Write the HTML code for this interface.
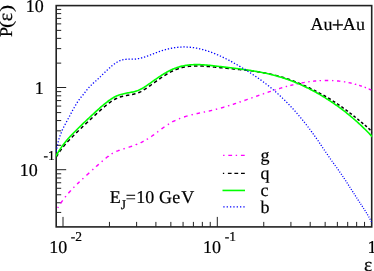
<!DOCTYPE html>
<html><head><meta charset="utf-8"><title>P(eps)</title>
<style>html,body{margin:0;padding:0;background:#fff;overflow:hidden}svg{display:block;will-change:transform}text{font-family:"Liberation Serif",serif;fill:#000;text-rendering:geometricPrecision;font-kerning:none;stroke:#000;stroke-width:0.2px}</style></head><body>
<svg width="374" height="271" viewBox="0 0 374 271">
<rect x="0" y="0" width="374" height="271" fill="#fff"/>
<defs><clipPath id="cp"><rect x="55.90" y="5.60" width="316.20" height="221.60"/></clipPath></defs>
<path d="M56.20 212.43 h5.0 M56.20 202.76 h5.0 M56.20 194.79 h5.0 M56.20 188.29 h5.0 M56.20 182.78 h5.0 M56.20 178.02 h5.0 M56.20 173.81 h5.0 M56.20 169.70 h10.0 M56.20 145.31 h5.0 M56.20 130.83 h5.0 M56.20 120.56 h5.0 M56.20 112.59 h5.0 M56.20 106.09 h5.0 M56.20 100.58 h5.0 M56.20 95.82 h5.0 M56.20 91.61 h5.0 M56.20 87.50 h10.0 M56.20 63.11 h5.0 M56.20 48.63 h5.0 M56.20 38.36 h5.0 M56.20 30.39 h5.0 M56.20 23.89 h5.0 M56.20 18.38 h5.0 M56.20 13.62 h5.0 M56.20 9.41 h5.0 M63.00 226.90 v-10.0 M109.45 226.90 v-5.0 M136.62 226.90 v-5.0 M155.90 226.90 v-5.0 M170.85 226.90 v-5.0 M183.07 226.90 v-5.0 M193.40 226.90 v-5.0 M202.35 226.90 v-5.0 M210.24 226.90 v-5.0 M217.30 226.90 v-10.0 M263.75 226.90 v-5.0 M290.92 226.90 v-5.0 M310.20 226.90 v-5.0 M325.15 226.90 v-5.0 M337.37 226.90 v-5.0 M347.70 226.90 v-5.0 M356.65 226.90 v-5.0 M364.54 226.90 v-5.0" stroke="#222" stroke-width="1" fill="none"/>
<rect x="56.20" y="5.60" width="315.50" height="221.30" fill="none" stroke="#222" stroke-width="1.6"/>
<g clip-path="url(#cp)" fill="none">
<path d="M57.63 207.97 L57.65 207.94 L57.91 207.51 L58.18 207.09 L58.37 206.78 M60.56 203.43 L60.58 203.40 L60.86 202.99 L61.14 202.58 L61.43 202.17 L61.72 201.76 L62.00 201.35 L62.30 200.94 L62.59 200.54 L62.66 200.44 M65.07 197.25 L65.08 197.23 L65.39 196.83 L65.70 196.44 L65.94 196.15 M68.40 193.19 L68.42 193.17 L68.75 192.80 L69.08 192.42 L69.41 192.04 L69.74 191.67 L70.07 191.30 L70.41 190.93 L70.75 190.56 L70.76 190.54 M73.41 187.75 L73.43 187.73 L73.78 187.37 L74.13 187.02 L74.39 186.75 M77.09 184.10 L77.12 184.07 L77.48 183.72 L77.84 183.38 L78.20 183.03 L78.57 182.69 L78.93 182.35 L79.29 182.00 L79.62 181.70 M82.39 179.13 L82.41 179.11 L82.78 178.77 L83.14 178.43 L83.41 178.18 M86.45 175.39 L86.45 175.39 L86.82 175.05 L87.19 174.71 L87.56 174.37 L87.93 174.03 L88.30 173.70 L88.67 173.36 L89.04 173.02 L89.23 172.85 M92.28 170.07 L92.29 170.06 L92.66 169.73 L93.03 169.39 L93.32 169.13 M96.17 166.58 L96.19 166.55 L96.57 166.22 L96.94 165.89 L97.31 165.55 L97.69 165.22 L98.06 164.89 L98.44 164.56 L98.80 164.24 M101.67 161.72 L101.70 161.69 L102.08 161.36 L102.46 161.03 L102.73 160.80 M105.67 158.30 L105.70 158.28 L106.08 157.96 L106.47 157.65 L106.86 157.33 L107.25 157.02 L107.65 156.71 L108.04 156.41 L108.44 156.11 L108.44 156.10 M111.60 153.91 L111.64 153.88 L112.07 153.62 L112.49 153.36 L112.80 153.19 M116.33 151.43 L116.33 151.43 L116.79 151.23 L117.25 151.04 L117.72 150.86 L118.18 150.67 L118.65 150.50 L119.12 150.33 L119.59 150.16 L119.69 150.12 M123.43 148.90 L123.44 148.90 L123.92 148.75 L124.39 148.61 L124.77 148.49 M128.64 147.27 L128.64 147.27 L129.11 147.12 L129.59 146.96 L130.06 146.80 L130.54 146.65 L131.01 146.49 L131.49 146.33 L131.96 146.16 L132.14 146.10 M135.95 144.71 L135.95 144.70 L136.42 144.52 L136.88 144.34 L137.25 144.19 M140.59 142.74 L140.60 142.73 L141.05 142.52 L141.50 142.31 L141.95 142.09 L142.40 141.87 L142.85 141.64 L143.30 141.41 L143.62 141.24 M146.80 139.46 L146.83 139.44 L147.26 139.18 L147.69 138.92 L147.99 138.73 M151.19 136.61 L151.23 136.58 L151.64 136.29 L152.05 136.00 L152.46 135.71 L152.87 135.42 L153.27 135.13 L153.68 134.84 L154.06 134.55 M157.14 132.26 L157.17 132.24 L157.57 131.94 L157.96 131.64 L158.26 131.42 M161.49 129.00 L161.53 128.97 L161.93 128.67 L162.33 128.38 L162.73 128.08 L163.14 127.79 L163.54 127.50 L163.95 127.20 L164.36 126.91 L164.47 126.84 M167.81 124.58 L167.84 124.56 L168.26 124.29 L168.68 124.03 L169.00 123.84 M172.31 121.94 L172.32 121.93 L172.76 121.70 L173.20 121.47 L173.65 121.24 L174.10 121.01 L174.54 120.79 L174.99 120.57 L175.45 120.36 L175.45 120.36 M178.95 118.82 L178.97 118.82 L179.44 118.63 L179.90 118.45 L180.25 118.31 M184.07 116.95 L184.09 116.95 L184.56 116.79 L185.04 116.64 L185.52 116.49 L186.00 116.34 L186.47 116.20 L186.95 116.06 L187.43 115.92 L187.60 115.87 M191.52 114.83 L191.54 114.82 L192.02 114.70 L192.51 114.58 L192.88 114.49 M196.58 113.65 L196.60 113.65 L197.09 113.54 L197.58 113.44 L198.07 113.33 L198.56 113.23 L199.05 113.12 L199.54 113.02 L200.00 112.93 M203.71 112.16 L203.75 112.15 L204.24 112.05 L204.73 111.95 L205.09 111.88 M208.77 111.09 L208.79 111.09 L209.28 110.98 L209.76 110.87 L210.25 110.76 L210.74 110.65 L211.23 110.54 L211.71 110.42 L212.16 110.32 M215.82 109.41 L215.84 109.40 L216.32 109.28 L216.81 109.15 L217.18 109.05 M220.91 108.03 L220.96 108.02 L221.44 107.88 L221.92 107.75 L222.40 107.61 L222.88 107.47 L223.36 107.33 L223.84 107.19 L224.32 107.04 L224.33 107.04 M228.03 105.92 L228.05 105.91 L228.53 105.76 L229.00 105.61 L229.37 105.50 M232.85 104.38 L232.86 104.38 L233.34 104.22 L233.81 104.07 L234.29 103.91 L234.76 103.75 L235.24 103.60 L235.71 103.44 L236.07 103.32 M239.54 102.15 L239.55 102.14 L240.02 101.98 L240.49 101.82 L240.86 101.69 M244.45 100.45 L244.46 100.45 L244.94 100.28 L245.41 100.12 L245.88 99.95 L246.35 99.79 L246.82 99.62 L247.29 99.46 L247.76 99.29 M251.34 98.03 L251.35 98.03 L251.82 97.86 L252.29 97.69 L252.66 97.56 M256.14 96.33 L256.16 96.33 L256.63 96.16 L257.10 95.99 L257.57 95.83 L258.04 95.66 L258.52 95.49 L258.99 95.33 L259.36 95.20 M262.84 93.98 L262.86 93.98 L263.33 93.81 L263.80 93.65 L264.16 93.53 M267.63 92.34 L267.64 92.34 L268.11 92.18 L268.58 92.02 L269.06 91.86 L269.53 91.70 L270.01 91.54 L270.48 91.39 L270.85 91.26 M274.33 90.12 L274.38 90.11 L274.85 89.96 L275.33 89.81 L275.67 89.70 M279.09 88.63 L279.10 88.63 L279.58 88.48 L280.06 88.34 L280.53 88.19 L281.01 88.05 L281.49 87.91 L281.97 87.76 L282.28 87.67 M285.73 86.69 L285.77 86.68 L286.25 86.54 L286.73 86.41 L287.08 86.32 M290.31 85.46 L290.31 85.46 L290.79 85.34 L291.28 85.21 L291.76 85.09 L292.25 84.97 L292.73 84.85 L293.22 84.74 L293.36 84.70 M296.62 83.95 L296.63 83.95 L297.12 83.84 L297.61 83.74 L297.98 83.66 M301.49 82.95 L301.53 82.94 L302.02 82.85 L302.51 82.76 L303.00 82.67 L303.49 82.58 L303.99 82.50 L304.48 82.41 L304.77 82.36 M308.31 81.81 L308.33 81.81 L308.83 81.74 L309.32 81.67 L309.69 81.62 M313.06 81.21 L313.09 81.21 L313.59 81.15 L314.09 81.10 L314.59 81.05 L315.08 81.00 L315.58 80.96 L316.08 80.91 L316.22 80.90 M319.60 80.66 L319.62 80.65 L320.12 80.63 L320.62 80.60 L321.00 80.58 M324.76 80.46 L324.77 80.46 L325.27 80.45 L325.77 80.45 L326.27 80.44 L326.77 80.44 L327.27 80.44 L327.77 80.45 L328.24 80.45 M332.00 80.56 L332.01 80.56 L332.51 80.58 L333.01 80.61 L333.40 80.63 M337.00 80.90 L337.00 80.90 L337.50 80.95 L338.00 81.00 L338.50 81.05 L338.99 81.10 L339.49 81.16 L339.99 81.21 L340.33 81.26 M343.91 81.76 L343.95 81.76 L344.44 81.84 L344.93 81.93 L345.29 81.99 M348.59 82.61 L348.62 82.61 L349.11 82.71 L349.60 82.82 L350.09 82.92 L350.58 83.03 L351.06 83.14 L351.55 83.26 L351.67 83.29 M354.93 84.11 L354.94 84.12 L355.43 84.25 L355.91 84.39 L356.27 84.49 M359.13 85.35 L359.16 85.36 L359.64 85.52 L360.12 85.67 L360.59 85.83 L361.06 85.99 L361.54 86.15 L361.84 86.26 M364.65 87.28 L364.69 87.29 L365.15 87.47 L365.62 87.65 L365.95 87.78 M368.71 88.92 L368.72 88.92 L369.18 89.12 L369.64 89.32 L370.10 89.52 L370.55 89.72 L371.01 89.93 L371.33 90.08" stroke="#ff00ff" stroke-width="1.4"/>
<path d="M56.20 157.12 L56.20 157.12 L56.45 156.69 L56.70 156.26 L56.96 155.83 L57.21 155.40 L57.47 154.97 L57.74 154.55 L58.00 154.12 L58.03 154.08 M59.56 151.74 L59.56 151.74 L59.84 151.32 L60.12 150.91 L60.41 150.50 L60.70 150.09 L60.99 149.69 L61.29 149.29 L61.58 148.88 M63.30 146.67 L63.30 146.67 L63.61 146.28 L63.93 145.90 L64.25 145.51 L64.57 145.13 L64.90 144.75 L65.23 144.38 L65.56 144.00 M67.44 141.93 L67.44 141.93 L67.78 141.57 L68.12 141.20 L68.47 140.84 L68.81 140.47 L69.15 140.11 L69.50 139.75 L69.84 139.38 M71.78 137.36 L71.78 137.36 L72.13 137.01 L72.48 136.65 L72.83 136.29 L73.18 135.94 L73.54 135.59 L73.89 135.23 L74.25 134.88 M76.24 132.91 L76.24 132.91 L76.59 132.56 L76.95 132.21 L77.31 131.86 L77.67 131.52 L78.03 131.17 L78.39 130.82 L78.74 130.47 M80.76 128.53 L80.76 128.53 L81.12 128.18 L81.49 127.84 L81.85 127.49 L82.21 127.15 L82.57 126.80 L82.93 126.46 L83.30 126.12 M85.33 124.19 L85.33 124.19 L85.70 123.85 L86.06 123.51 L86.42 123.17 L86.79 122.82 L87.15 122.48 L87.52 122.14 L87.88 121.80 M89.93 119.88 L89.93 119.88 L90.29 119.54 L90.66 119.20 L91.02 118.86 L91.39 118.52 L91.75 118.18 L92.12 117.83 L92.48 117.49 M94.54 115.59 L94.54 115.59 L94.91 115.25 L95.27 114.91 L95.64 114.58 L96.01 114.24 L96.38 113.90 L96.75 113.56 L97.12 113.22 M99.18 111.34 L99.18 111.34 L99.55 111.00 L99.93 110.67 L100.30 110.33 L100.67 110.00 L101.04 109.67 L101.42 109.33 L101.79 109.00 M103.90 107.17 L103.90 107.17 L104.29 106.84 L104.67 106.52 L105.05 106.20 L105.43 105.88 L105.82 105.56 L106.21 105.24 L106.60 104.93 M108.81 103.21 L108.81 103.21 L109.21 102.91 L109.61 102.62 L110.02 102.33 L110.43 102.04 L110.84 101.75 L111.25 101.47 L111.66 101.19 M114.05 99.72 L114.05 99.72 L114.48 99.48 L114.92 99.24 L115.36 99.01 L115.81 98.78 L116.26 98.56 L116.71 98.35 L117.17 98.15 M119.78 97.14 L119.78 97.14 L120.25 96.99 L120.73 96.84 L121.21 96.70 L121.69 96.57 L122.18 96.44 L122.66 96.32 L123.15 96.20 M125.88 95.61 L125.88 95.61 L126.38 95.52 L126.87 95.43 L127.36 95.34 L127.85 95.25 L128.34 95.16 L128.84 95.08 L129.33 94.99 M132.08 94.49 L132.08 94.49 L132.57 94.40 L133.06 94.29 L133.55 94.19 L134.04 94.08 L134.53 93.97 L135.01 93.85 L135.50 93.72 M138.16 92.85 L138.16 92.85 L138.62 92.67 L139.09 92.47 L139.54 92.27 L140.00 92.06 L140.45 91.84 L140.89 91.62 L141.34 91.38 M143.76 89.98 L143.76 89.98 L144.18 89.71 L144.60 89.44 L145.02 89.17 L145.44 88.90 L145.86 88.62 L146.27 88.34 L146.69 88.06 M148.99 86.47 L148.99 86.47 L149.40 86.18 L149.81 85.89 L150.21 85.60 L150.62 85.31 L151.02 85.01 L151.43 84.72 L151.83 84.43 M154.10 82.78 L154.10 82.78 L154.50 82.49 L154.91 82.19 L155.31 81.90 L155.72 81.61 L156.12 81.32 L156.53 81.02 L156.94 80.73 M159.22 79.11 L159.22 79.11 L159.62 78.82 L160.03 78.53 L160.45 78.25 L160.86 77.96 L161.27 77.68 L161.68 77.40 L162.10 77.12 M164.44 75.58 L164.44 75.58 L164.86 75.31 L165.28 75.05 L165.71 74.78 L166.13 74.52 L166.56 74.27 L166.99 74.01 L167.42 73.76 M169.86 72.39 L169.86 72.39 L170.30 72.15 L170.75 71.92 L171.19 71.69 L171.64 71.47 L172.09 71.25 L172.54 71.03 L172.99 70.82 M175.56 69.72 L175.56 69.72 L176.03 69.53 L176.50 69.36 L176.96 69.18 L177.43 69.01 L177.91 68.85 L178.38 68.69 L178.85 68.53 M181.53 67.72 L181.53 67.72 L182.02 67.58 L182.50 67.46 L182.98 67.34 L183.47 67.22 L183.96 67.11 L184.45 67.00 L184.94 66.90 M187.70 66.45 L187.70 66.45 L188.19 66.39 L188.69 66.33 L189.19 66.28 L189.69 66.23 L190.18 66.19 L190.68 66.15 L191.18 66.11 M193.98 65.95 L193.98 65.95 L194.48 65.94 L194.98 65.92 L195.48 65.91 L195.98 65.90 L196.48 65.90 L196.98 65.90 L197.48 65.90 M200.27 65.97 L200.27 65.97 L200.77 65.99 L201.27 66.02 L201.77 66.04 L202.27 66.07 L202.77 66.10 L203.27 66.13 L203.77 66.16 M206.56 66.37 L206.56 66.37 L207.06 66.41 L207.56 66.45 L208.06 66.49 L208.56 66.53 L209.05 66.57 L209.55 66.61 L210.05 66.66 M212.84 66.92 L212.84 66.92 L213.34 66.96 L213.83 67.01 L214.33 67.06 L214.83 67.11 L215.33 67.16 L215.82 67.21 L216.32 67.26 M219.11 67.54 L219.11 67.54 L219.60 67.59 L220.10 67.64 L220.60 67.68 L221.10 67.73 L221.60 67.78 L222.09 67.83 L222.59 67.88 M225.38 68.15 L225.38 68.15 L225.87 68.20 L226.37 68.25 L226.87 68.30 L227.37 68.34 L227.87 68.39 L228.36 68.44 L228.86 68.49 M231.65 68.76 L231.65 68.76 L232.15 68.81 L232.64 68.86 L233.14 68.91 L233.64 68.96 L234.14 69.01 L234.63 69.06 L235.13 69.11 M237.92 69.38 L237.92 69.38 L238.41 69.43 L238.91 69.48 L239.41 69.53 L239.91 69.58 L240.40 69.63 L240.90 69.68 L241.40 69.73 M244.18 70.02 L244.18 70.02 L244.68 70.07 L245.18 70.12 L245.68 70.18 L246.17 70.23 L246.67 70.29 L247.17 70.35 L247.66 70.40 M250.44 70.75 L250.44 70.75 L250.94 70.81 L251.43 70.87 L251.93 70.94 L252.43 71.01 L252.92 71.07 L253.42 71.14 L253.91 71.21 M256.68 71.62 L256.68 71.62 L257.18 71.69 L257.67 71.77 L258.16 71.85 L258.66 71.93 L259.15 72.01 L259.64 72.09 L260.14 72.17 M262.90 72.65 L262.90 72.65 L263.39 72.73 L263.88 72.82 L264.37 72.92 L264.86 73.01 L265.36 73.10 L265.85 73.20 L266.34 73.29 M269.08 73.86 L269.08 73.86 L269.57 73.96 L270.06 74.07 L270.55 74.17 L271.03 74.28 L271.52 74.39 L272.01 74.50 L272.50 74.61 M275.17 75.26 L275.17 75.26 L275.66 75.38 L276.14 75.50 L276.62 75.63 L277.11 75.75 L277.59 75.88 L278.08 76.01 L278.51 76.12 M281.16 76.87 L281.16 76.87 L281.64 77.01 L282.12 77.15 L282.60 77.29 L283.07 77.44 L283.55 77.59 L284.03 77.73 L284.41 77.85 M286.93 78.68 L286.93 78.68 L287.40 78.84 L287.88 79.00 L288.35 79.16 L288.82 79.33 L289.29 79.49 L289.77 79.66 L290.09 79.78 M292.58 80.70 L292.58 80.70 L293.05 80.87 L293.51 81.05 L293.98 81.23 L294.45 81.42 L294.91 81.60 L295.38 81.78 L295.66 81.89 M298.06 82.87 L298.06 82.87 L298.53 83.06 L298.99 83.26 L299.45 83.45 L299.91 83.65 L300.37 83.84 L300.83 84.04 L301.06 84.14 M303.39 85.16 L303.39 85.16 L303.85 85.36 L304.31 85.57 L304.76 85.77 L305.22 85.98 L305.67 86.19 L306.13 86.40 L306.35 86.50 M308.62 87.56 L308.62 87.56 L309.07 87.78 L309.52 88.00 L309.97 88.21 L310.42 88.43 L310.87 88.65 L311.32 88.87 L311.45 88.94 M313.69 90.06 L313.69 90.06 L314.13 90.29 L314.58 90.51 L315.02 90.74 L315.47 90.97 L315.91 91.20 L316.35 91.43 L316.44 91.48 M318.61 92.62 L318.61 92.62 L319.05 92.85 L319.49 93.09 L319.93 93.33 L320.37 93.56 L320.81 93.80 L321.25 94.04 L321.34 94.09 M323.44 95.25 L323.44 95.25 L323.88 95.50 L324.31 95.74 L324.75 95.99 L325.18 96.24 L325.62 96.49 L326.05 96.74 L326.09 96.76 M328.12 97.95 L328.12 97.95 L328.55 98.21 L328.97 98.47 L329.40 98.73 L329.83 98.99 L330.25 99.25 L330.68 99.51 M332.67 100.77 L332.67 100.77 L333.09 101.04 L333.51 101.31 L333.93 101.58 L334.35 101.86 L334.76 102.13 L335.18 102.40 M337.09 103.68 L337.09 103.68 L337.51 103.97 L337.92 104.25 L338.33 104.53 L338.74 104.81 L339.15 105.10 L339.48 105.33 M341.36 106.65 L341.36 106.65 L341.77 106.94 L342.18 107.23 L342.58 107.52 L342.99 107.82 L343.39 108.11 L343.72 108.34 M345.53 109.68 L345.53 109.68 L345.93 109.97 L346.34 110.27 L346.74 110.57 L347.14 110.87 L347.54 111.17 L347.82 111.38 M349.57 112.71 L349.57 112.71 L349.96 113.02 L350.36 113.32 L350.76 113.63 L351.15 113.94 L351.54 114.24 L351.82 114.46 M353.51 115.79 L353.51 115.79 L353.90 116.10 L354.29 116.41 L354.68 116.72 L355.07 117.04 L355.46 117.35 L355.69 117.54 M357.40 118.93 L357.40 118.93 L357.78 119.25 L358.17 119.57 L358.55 119.89 L358.94 120.21 L359.32 120.53 L359.47 120.66 M361.12 122.04 L361.12 122.04 L361.50 122.36 L361.89 122.68 L362.28 123.00 L362.66 123.32 L363.05 123.64 L363.24 123.79 M364.86 125.13 L364.86 125.13 L365.24 125.46 L365.62 125.78 L366.00 126.10 L366.38 126.43 L366.76 126.76 L366.91 126.89 M368.48 128.29 L368.48 128.29 L368.85 128.62 L369.21 128.97 L369.57 129.31 L369.94 129.66 L370.29 130.01 L370.44 130.15 M371.90 131.65 L371.90 131.65 L372.25 132.01 L372.59 132.38 L372.93 132.74 L373.27 133.11 L373.50 133.36" stroke="#000" stroke-width="1.5"/>
<path d="M55.00 157.78 L56.00 155.97 L57.00 154.24 L58.00 152.57 L59.00 150.95 L60.00 149.38 L61.00 147.87 L62.00 146.42 L63.00 145.02 L64.00 143.68 L65.00 142.39 L66.00 141.16 L67.00 139.97 L68.00 138.82 L69.00 137.70 L70.00 136.61 L71.00 135.55 L72.00 134.51 L73.00 133.48 L74.00 132.47 L75.00 131.46 L76.00 130.46 L77.00 129.47 L78.00 128.49 L79.00 127.51 L80.00 126.53 L81.00 125.57 L82.00 124.60 L83.00 123.64 L84.00 122.69 L85.00 121.74 L86.00 120.79 L87.00 119.85 L88.00 118.90 L89.00 117.96 L90.00 117.02 L91.00 116.08 L92.00 115.15 L93.00 114.22 L94.00 113.29 L95.00 112.37 L96.00 111.45 L97.00 110.54 L98.00 109.63 L99.00 108.73 L100.00 107.84 L101.00 106.97 L102.00 106.10 L103.00 105.25 L104.00 104.41 L105.00 103.59 L106.00 102.79 L107.00 102.01 L108.00 101.25 L109.00 100.52 L110.00 99.82 L111.00 99.14 L112.00 98.50 L113.00 97.89 L114.00 97.32 L115.00 96.78 L116.00 96.29 L117.00 95.84 L118.00 95.43 L119.00 95.06 L120.00 94.73 L121.00 94.43 L122.00 94.17 L123.00 93.93 L124.00 93.70 L125.00 93.49 L126.00 93.29 L127.00 93.09 L128.00 92.90 L129.00 92.72 L130.00 92.53 L131.00 92.33 L132.00 92.13 L133.00 91.91 L134.00 91.67 L135.00 91.41 L136.00 91.13 L137.00 90.80 L138.00 90.43 L139.00 90.02 L140.00 89.56 L141.00 89.06 L142.00 88.52 L143.00 87.94 L144.00 87.33 L145.00 86.70 L146.00 86.05 L147.00 85.38 L148.00 84.70 L149.00 84.01 L150.00 83.31 L151.00 82.60 L152.00 81.88 L153.00 81.17 L154.00 80.46 L155.00 79.75 L156.00 79.05 L157.00 78.36 L158.00 77.67 L159.00 77.00 L160.00 76.33 L161.00 75.68 L162.00 75.04 L163.00 74.41 L164.00 73.79 L165.00 73.19 L166.00 72.60 L167.00 72.04 L168.00 71.49 L169.00 70.96 L170.00 70.45 L171.00 69.96 L172.00 69.50 L173.00 69.06 L174.00 68.64 L175.00 68.25 L176.00 67.88 L177.00 67.54 L178.00 67.21 L179.00 66.91 L180.00 66.64 L181.00 66.38 L182.00 66.14 L183.00 65.92 L184.00 65.72 L185.00 65.54 L186.00 65.38 L187.00 65.24 L188.00 65.11 L189.00 65.00 L190.00 64.90 L191.00 64.82 L192.00 64.75 L193.00 64.69 L194.00 64.65 L195.00 64.62 L196.00 64.60 L197.00 64.60 L198.00 64.61 L199.00 64.63 L200.00 64.66 L201.00 64.70 L202.00 64.75 L203.00 64.81 L204.00 64.88 L205.00 64.96 L206.00 65.04 L207.00 65.12 L208.00 65.22 L209.00 65.31 L210.00 65.42 L211.00 65.52 L212.00 65.63 L213.00 65.74 L214.00 65.86 L215.00 65.97 L216.00 66.09 L217.00 66.21 L218.00 66.32 L219.00 66.44 L220.00 66.56 L221.00 66.67 L222.00 66.79 L223.00 66.90 L224.00 67.02 L225.00 67.13 L226.00 67.25 L227.00 67.36 L228.00 67.48 L229.00 67.59 L230.00 67.71 L231.00 67.83 L232.00 67.95 L233.00 68.07 L234.00 68.20 L235.00 68.32 L236.00 68.45 L237.00 68.57 L238.00 68.70 L239.00 68.83 L240.00 68.96 L241.00 69.10 L242.00 69.23 L243.00 69.37 L244.00 69.51 L245.00 69.65 L246.00 69.79 L247.00 69.94 L248.00 70.08 L249.00 70.23 L250.00 70.39 L251.00 70.55 L252.00 70.70 L253.00 70.87 L254.00 71.03 L255.00 71.20 L256.00 71.38 L257.00 71.55 L258.00 71.74 L259.00 71.92 L260.00 72.11 L261.00 72.30 L262.00 72.50 L263.00 72.70 L264.00 72.91 L265.00 73.12 L266.00 73.34 L267.00 73.56 L268.00 73.78 L269.00 74.02 L270.00 74.25 L271.00 74.50 L272.00 74.74 L273.00 75.00 L274.00 75.26 L275.00 75.52 L276.00 75.80 L277.00 76.07 L278.00 76.36 L279.00 76.65 L280.00 76.95 L281.00 77.25 L282.00 77.56 L283.00 77.88 L284.00 78.21 L285.00 78.54 L286.00 78.88 L287.00 79.23 L288.00 79.58 L289.00 79.94 L290.00 80.31 L291.00 80.69 L292.00 81.07 L293.00 81.46 L294.00 81.86 L295.00 82.26 L296.00 82.67 L297.00 83.09 L298.00 83.51 L299.00 83.94 L300.00 84.38 L301.00 84.83 L302.00 85.28 L303.00 85.74 L304.00 86.21 L305.00 86.69 L306.00 87.17 L307.00 87.66 L308.00 88.15 L309.00 88.66 L310.00 89.17 L311.00 89.69 L312.00 90.21 L313.00 90.74 L314.00 91.28 L315.00 91.83 L316.00 92.38 L317.00 92.94 L318.00 93.51 L319.00 94.09 L320.00 94.67 L321.00 95.26 L322.00 95.86 L323.00 96.46 L324.00 97.07 L325.00 97.69 L326.00 98.32 L327.00 98.95 L328.00 99.59 L329.00 100.24 L330.00 100.89 L331.00 101.56 L332.00 102.23 L333.00 102.91 L334.00 103.59 L335.00 104.29 L336.00 104.99 L337.00 105.70 L338.00 106.42 L339.00 107.14 L340.00 107.88 L341.00 108.62 L342.00 109.37 L343.00 110.14 L344.00 110.91 L345.00 111.68 L346.00 112.47 L347.00 113.27 L348.00 114.07 L349.00 114.89 L350.00 115.72 L351.00 116.55 L352.00 117.39 L353.00 118.25 L354.00 119.11 L355.00 119.98 L356.00 120.87 L357.00 121.76 L358.00 122.67 L359.00 123.58 L360.00 124.51 L361.00 125.44 L362.00 126.39 L363.00 127.34 L364.00 128.31 L365.00 129.29 L366.00 130.28 L367.00 131.28 L368.00 132.29 L369.00 133.31 L370.00 134.35 L371.00 135.39 L372.00 136.45 L373.00 137.52" stroke="#00ff00" stroke-width="1.6"/>
<path d="M56.20 151.73 L56.20 151.73 L56.28 151.24 L56.37 150.75 L56.42 150.45 M56.75 148.58 L56.75 148.58 L56.85 148.09 L56.94 147.60 L56.99 147.36 M57.37 145.50 L57.37 145.50 L57.48 145.01 L57.59 144.52 L57.64 144.28 M58.08 142.43 L58.08 142.43 L58.20 141.95 L58.32 141.47 L58.39 141.22 M58.89 139.39 L58.89 139.39 L59.03 138.92 L59.18 138.44 L59.25 138.20 M59.84 136.39 L59.84 136.39 L60.00 135.92 L60.16 135.45 L60.25 135.21 M60.90 133.43 L60.90 133.43 L61.09 132.97 L61.27 132.50 L61.36 132.27 M62.10 130.52 L62.10 130.52 L62.30 130.06 L62.50 129.61 L62.61 129.38 M63.42 127.66 L63.42 127.66 L63.64 127.22 L63.86 126.77 L63.98 126.55 M64.86 124.86 L64.86 124.86 L65.09 124.42 L65.33 123.98 L65.45 123.76 M66.36 122.10 L66.36 122.10 L66.60 121.66 L66.84 121.22 L66.96 121.00 M67.86 119.32 L67.86 119.32 L68.09 118.88 L68.33 118.44 L68.45 118.22 M69.34 116.54 L69.34 116.54 L69.57 116.10 L69.81 115.66 L69.92 115.44 M70.81 113.76 L70.81 113.76 L71.05 113.32 L71.28 112.88 L71.40 112.66 M72.30 110.98 L72.30 110.98 L72.54 110.54 L72.78 110.10 L72.90 109.89 M73.81 108.22 L73.81 108.22 L74.06 107.79 L74.30 107.35 L74.43 107.13 M75.38 105.49 L75.38 105.49 L75.63 105.06 L75.89 104.63 L76.01 104.41 M77.01 102.80 L77.01 102.80 L77.28 102.38 L77.55 101.96 L77.69 101.75 M78.75 100.18 L78.75 100.18 L79.04 99.77 L79.34 99.36 L79.49 99.16 M80.66 97.67 L80.66 97.67 L80.98 97.29 L81.30 96.90 L81.46 96.71 M82.68 95.26 L82.68 95.26 L83.00 94.87 L83.31 94.48 L83.47 94.28 M84.64 92.78 L84.64 92.78 L84.94 92.39 L85.25 91.99 L85.40 91.80 M86.57 90.30 L86.57 90.30 L86.88 89.91 L87.19 89.52 L87.35 89.33 M88.58 87.88 L88.58 87.88 L88.92 87.51 L89.25 87.14 L89.42 86.95 M90.74 85.59 L90.74 85.59 L91.10 85.24 L91.46 84.89 L91.63 84.71 M93.02 83.42 L93.02 83.42 L93.39 83.08 L93.76 82.74 L93.95 82.58 M95.36 81.31 L95.36 81.31 L95.74 80.98 L96.11 80.64 L96.30 80.48 M97.70 79.20 L97.70 79.20 L98.07 78.86 L98.44 78.52 L98.62 78.35 M100.00 77.04 L100.00 77.04 L100.36 76.69 L100.72 76.35 L100.90 76.17 M102.26 74.85 L102.26 74.85 L102.61 74.50 L102.97 74.15 L103.15 73.97 M104.51 72.64 L104.51 72.64 L104.87 72.29 L105.22 71.95 L105.40 71.77 M106.77 70.46 L106.77 70.46 L107.14 70.11 L107.50 69.77 L107.68 69.60 M109.08 68.31 L109.08 68.31 L109.45 67.97 L109.82 67.64 L110.01 67.47 M111.44 66.23 L111.44 66.23 L111.83 65.91 L112.21 65.59 L112.41 65.43 M113.91 64.27 L113.91 64.27 L114.31 63.97 L114.71 63.68 L114.96 63.50 M116.50 62.48 L116.50 62.48 L116.92 62.22 L117.35 61.96 L117.61 61.82 M119.26 60.97 L119.26 60.97 L119.71 60.77 L120.17 60.57 L120.45 60.46 M122.21 59.89 L122.21 59.89 L122.70 59.77 L123.18 59.67 L123.48 59.61 M125.31 59.35 L125.31 59.35 L125.81 59.31 L126.31 59.27 L126.61 59.25 M128.45 59.19 L128.45 59.19 L128.95 59.19 L129.45 59.19 L129.75 59.19 M131.60 59.19 L131.60 59.19 L132.10 59.18 L132.60 59.18 L132.90 59.17 M134.75 59.09 L134.75 59.09 L135.25 59.04 L135.75 59.00 L136.05 58.96 M137.88 58.70 L137.88 58.70 L138.37 58.61 L138.86 58.52 L139.16 58.46 M140.96 58.04 L140.96 58.04 L141.44 57.92 L141.93 57.79 L142.22 57.71 M143.99 57.19 L143.99 57.19 L144.47 57.04 L144.94 56.89 L145.23 56.80 M146.98 56.20 L146.98 56.20 L147.45 56.03 L147.92 55.86 L148.20 55.76 M149.94 55.11 L149.94 55.11 L150.41 54.94 L150.87 54.76 L151.15 54.65 M152.88 53.98 L152.88 53.98 L153.34 53.80 L153.81 53.62 L154.09 53.51 M155.82 52.85 L155.82 52.85 L156.28 52.67 L156.75 52.50 L157.03 52.39 M158.77 51.75 L158.77 51.75 L159.24 51.59 L159.71 51.42 L160.00 51.32 M161.75 50.74 L161.75 50.74 L162.23 50.58 L162.70 50.44 L162.99 50.35 M164.76 49.82 L164.76 49.82 L165.25 49.69 L165.73 49.55 L166.02 49.48 M167.81 49.02 L167.81 49.02 L168.30 48.90 L168.78 48.79 L169.08 48.72 M170.88 48.33 L170.88 48.33 L171.37 48.24 L171.87 48.14 L172.16 48.09 M173.98 47.78 L173.98 47.78 L174.48 47.70 L174.97 47.63 L175.27 47.59 M177.11 47.36 L177.11 47.36 L177.60 47.31 L178.10 47.26 L178.40 47.23 M180.24 47.09 L180.24 47.09 L180.74 47.06 L181.24 47.03 L181.54 47.02 M183.39 46.97 L183.39 46.97 L183.89 46.96 L184.39 46.96 L184.69 46.96 M186.54 47.00 L186.54 47.00 L187.04 47.03 L187.54 47.05 L187.84 47.07 M189.68 47.20 L189.68 47.20 L190.18 47.25 L190.68 47.29 L190.98 47.33 M192.82 47.55 L192.82 47.55 L193.31 47.61 L193.81 47.69 L194.10 47.73 M195.93 48.03 L195.93 48.03 L196.42 48.12 L196.91 48.21 L197.21 48.27 M199.02 48.65 L199.02 48.65 L199.50 48.76 L199.99 48.87 L200.28 48.94 M202.08 49.39 L202.08 49.39 L202.56 49.51 L203.05 49.64 L203.33 49.72 M205.11 50.23 L205.11 50.23 L205.59 50.38 L206.07 50.52 L206.36 50.61 M208.12 51.18 L208.12 51.18 L208.59 51.34 L209.06 51.50 L209.35 51.60 M211.09 52.22 L211.09 52.22 L211.56 52.40 L212.03 52.57 L212.31 52.68 M214.03 53.35 L214.03 53.35 L214.50 53.53 L214.96 53.72 L215.24 53.83 M216.95 54.55 L216.95 54.55 L217.40 54.74 L217.86 54.94 L218.14 55.06 M219.83 55.82 L219.83 55.82 L220.28 56.02 L220.74 56.23 L221.01 56.36 M222.68 57.15 L222.68 57.15 L223.14 57.36 L223.59 57.58 L223.86 57.71 M225.51 58.53 L225.51 58.53 L225.96 58.76 L226.41 58.98 L226.67 59.12 M228.32 59.97 L228.32 59.97 L228.76 60.20 L229.20 60.43 L229.47 60.57 M231.10 61.45 L231.10 61.45 L231.54 61.68 L231.98 61.92 L232.24 62.07 M233.86 62.97 L233.86 62.97 L234.29 63.21 L234.73 63.45 L234.99 63.60 M236.60 64.52 L236.60 64.52 L237.03 64.77 L237.46 65.02 L237.72 65.17 M239.32 66.10 L239.32 66.10 L239.75 66.36 L240.18 66.61 L240.44 66.77 M242.03 67.72 L242.03 67.72 L242.46 67.97 L242.88 68.23 L243.14 68.39 M244.72 69.35 L244.72 69.35 L245.14 69.62 L245.57 69.88 L245.83 70.04 M247.39 71.02 L247.39 71.02 L247.82 71.28 L248.24 71.55 L248.49 71.71 M250.05 72.71 L250.05 72.71 L250.47 72.98 L250.89 73.25 L251.14 73.41 M252.69 74.43 L252.69 74.43 L253.11 74.71 L253.52 74.98 L253.77 75.15 M255.31 76.18 L255.31 76.18 L255.72 76.47 L256.13 76.75 L256.38 76.92 M257.90 77.97 L257.90 77.97 L258.31 78.26 L258.72 78.55 L258.96 78.72 M260.47 79.80 L260.47 79.80 L260.87 80.09 L261.28 80.38 L261.48 80.53 M263.01 81.66 L263.01 81.66 L263.41 81.95 L263.81 82.25 L264.01 82.40 M265.53 83.55 L265.53 83.55 L265.92 83.86 L266.32 84.16 L266.52 84.32 M268.01 85.49 L268.01 85.49 L268.40 85.80 L268.79 86.11 L268.99 86.27 M270.47 87.46 L270.47 87.46 L270.86 87.78 L271.24 88.09 L271.43 88.25 M272.89 89.47 L272.89 89.47 L273.28 89.79 L273.66 90.12 L273.85 90.28 M275.25 91.49 L275.25 91.49 L275.63 91.82 L276.00 92.14 L276.19 92.31 M277.57 93.54 L277.57 93.54 L277.94 93.87 L278.32 94.21 L278.50 94.38 M279.86 95.63 L279.86 95.63 L280.23 95.97 L280.60 96.31 L280.78 96.48 M282.12 97.75 L282.12 97.75 L282.49 98.10 L282.85 98.44 L282.99 98.58 M284.32 99.87 L284.32 99.87 L284.67 100.22 L285.03 100.57 L285.17 100.72 M286.44 101.99 L286.44 101.99 L286.79 102.35 L287.14 102.70 L287.32 102.88 M288.57 104.17 L288.57 104.17 L288.92 104.53 L289.26 104.90 L289.40 105.04 M290.64 106.35 L290.64 106.35 L290.98 106.71 L291.32 107.08 L291.46 107.23 M292.68 108.55 L292.68 108.55 L293.01 108.92 L293.35 109.29 L293.48 109.44 M294.69 110.78 L294.69 110.78 L295.02 111.15 L295.35 111.52 L295.45 111.64 M296.64 112.99 L296.64 112.99 L296.97 113.37 L297.29 113.74 L297.39 113.86 M298.56 115.22 L298.56 115.22 L298.89 115.61 L299.21 115.99 L299.31 116.10 M300.46 117.48 L300.46 117.48 L300.78 117.86 L301.10 118.25 L301.20 118.37 M302.31 119.72 L302.31 119.72 L302.63 120.11 L302.94 120.49 L303.04 120.61 M304.13 121.97 L304.13 121.97 L304.44 122.37 L304.76 122.76 L304.85 122.87 M305.93 124.25 L305.93 124.25 L306.24 124.64 L306.55 125.04 L306.64 125.15 M307.71 126.54 L307.71 126.54 L308.02 126.94 L308.32 127.33 L308.41 127.45 M309.44 128.81 L309.44 128.81 L309.74 129.21 L310.04 129.61 L310.13 129.73 M311.14 131.09 L311.14 131.09 L311.44 131.49 L311.74 131.89 L311.83 132.02 M312.83 133.39 L312.83 133.39 L313.12 133.79 L313.42 134.20 L313.51 134.32 M314.50 135.70 L314.50 135.70 L314.79 136.11 L315.08 136.51 L315.17 136.64 M316.12 137.98 L316.12 137.98 L316.41 138.39 L316.69 138.80 L316.78 138.93 M317.75 140.32 L317.75 140.32 L318.03 140.73 L318.32 141.14 L318.37 141.23 M319.33 142.63 L319.33 142.63 L319.62 143.04 L319.90 143.46 L319.95 143.54 M320.88 144.91 L320.88 144.91 L321.15 145.32 L321.43 145.74 L321.52 145.86 M322.44 147.23 L322.44 147.23 L322.71 147.65 L322.99 148.06 L323.05 148.15 M323.97 149.52 L323.97 149.52 L324.24 149.93 L324.52 150.35 L324.58 150.43 M325.50 151.80 L325.50 151.80 L325.78 152.21 L326.06 152.63 L326.11 152.71 M327.04 154.08 L327.04 154.08 L327.32 154.49 L327.60 154.90 L327.66 154.99 M328.60 156.35 L328.60 156.35 L328.88 156.76 L329.17 157.17 L329.22 157.25 M330.14 158.56 L330.14 158.56 L330.43 158.97 L330.72 159.37 L330.78 159.45 M331.74 160.79 L331.74 160.79 L332.03 161.20 L332.33 161.60 L332.36 161.64 M333.33 162.98 L333.33 162.98 L333.62 163.38 L333.92 163.79 L333.95 163.83 M334.89 165.12 L334.89 165.12 L335.18 165.53 L335.48 165.93 L335.53 166.01 M336.47 167.31 L336.47 167.31 L336.77 167.71 L337.06 168.12 L337.09 168.16 M338.02 169.46 L338.02 169.46 L338.31 169.87 L338.59 170.28 L338.62 170.32 M339.54 171.63 L339.54 171.63 L339.82 172.04 L340.11 172.45 L340.14 172.49 M341.04 173.81 L341.04 173.81 L341.32 174.23 L341.61 174.64 L341.63 174.68 M342.53 176.01 L342.53 176.01 L342.81 176.42 L343.09 176.84 L343.11 176.88 M343.97 178.17 L343.97 178.17 L344.25 178.59 L344.53 179.00 L344.55 179.05 M345.41 180.34 L345.41 180.34 L345.68 180.76 L345.96 181.18 L345.98 181.22 M346.83 182.51 L346.83 182.51 L347.10 182.93 L347.38 183.35 L347.40 183.39 M348.25 184.69 L348.25 184.69 L348.52 185.11 L348.79 185.53 L348.82 185.58 M349.66 186.88 L349.66 186.88 L349.93 187.30 L350.20 187.72 M351.04 189.02 L351.04 189.02 L351.31 189.44 L351.58 189.86 M352.42 191.17 L352.42 191.17 L352.69 191.59 L352.96 192.01 L352.99 192.05 M353.80 193.31 L353.80 193.31 L354.07 193.73 L354.34 194.15 L354.37 194.19 M355.18 195.46 L355.18 195.46 L355.45 195.88 L355.72 196.30 M356.56 197.60 L356.56 197.60 L356.84 198.02 L357.11 198.44 M357.93 199.69 L357.93 199.69 L358.20 200.11 L358.47 200.53 M359.30 201.78 L359.30 201.78 L359.57 202.20 L359.85 202.62 M360.67 203.87 L360.67 203.87 L360.94 204.29 L361.22 204.71 M362.04 205.96 L362.04 205.96 L362.32 206.38 L362.59 206.80 M363.41 208.06 L363.41 208.06 L363.68 208.48 L363.95 208.90 M364.75 210.16 L364.75 210.16 L365.02 210.59 L365.29 211.01 M366.08 212.28 L366.08 212.28 L366.34 212.71 L366.60 213.14 M367.38 214.42 L367.38 214.42 L367.63 214.85 L367.89 215.28 M368.65 216.58 L368.65 216.58 L368.89 217.01 L369.14 217.44 M369.88 218.75 L369.88 218.75 L370.12 219.19 L370.36 219.63 M371.07 220.95 L371.07 220.95 L371.31 221.39 L371.54 221.83 M372.23 223.17 L372.23 223.17 L372.46 223.61 L372.68 224.06 M373.35 225.40 L373.35 225.40 L373.50 225.72" stroke="#0000ff" stroke-width="1.3"/>
</g>
<g fill="none">
<path d="M222.5 155.35H245" stroke="#ff00ff" stroke-width="1.3" stroke-dasharray="1.4 3.8 3.8 3.6" stroke-dashoffset="-0.6"/>
<path d="M222.9 173.3H224.2M227.9 173.3H231.6M234.4 173.3H238.2M241 173.3H244.8" stroke="#000" stroke-width="1.3"/>
<path d="M222.5 190.45H245" stroke="#00ff00" stroke-width="1.6"/>
<path d="M223.3 206.95H245" stroke="#0000ff" stroke-width="1.3" stroke-dasharray="1.3 2.04"/>
</g>
<g font-size="18">
<text x="260.4" y="160.9">g</text>
<text x="260.5" y="179.4">q</text>
<text x="260.5" y="196">c</text>
<text x="260.5" y="212.5">b</text>
<text x="310.55" y="30.4">Au<tspan font-size="21.5" dx="-0.7" dy="1.1">+</tspan><tspan dx="-1.3" dy="-1.1">A</tspan><tspan dx="0.2">u</tspan></text>
<text x="109.8" y="202.6">E<tspan font-size="13.5" dy="6">J</tspan><tspan dy="-6" dx="-0.4">=</tspan><tspan dx="0.4">10 </tspan><tspan dx="0.3">G</tspan><tspan dx="0.25">e</tspan><tspan dx="0.9">V</tspan></text>
<text x="43.8" y="11.9" text-anchor="end">10</text>
<text x="43.8" y="93.6" text-anchor="end">1</text>
<text x="37.8" y="176.3" text-anchor="end">10</text>
<text x="43.4" y="160.4" font-size="13.5">-1</text>
<text x="49.2" y="252.8">10</text>
<text x="70.7" y="241.3" font-size="13.5">-2</text>
<text x="203.0" y="252.8">10</text>
<text x="224.8" y="241.3" font-size="13.5">-1</text>
<text x="367.6" y="252.9">1</text>
<text x="364.0" y="270.5" font-size="19.5">ε</text>
<g transform="translate(12.0 37.1) rotate(-90)"><text x="0" y="0">P</text><text transform="translate(9.0 0) scale(1.2 1)">(</text><text x="15.9" y="0" font-size="20">ε</text><text transform="translate(25.2 0) scale(1.2 1)">)</text></g>
</g>
</svg></body></html>
